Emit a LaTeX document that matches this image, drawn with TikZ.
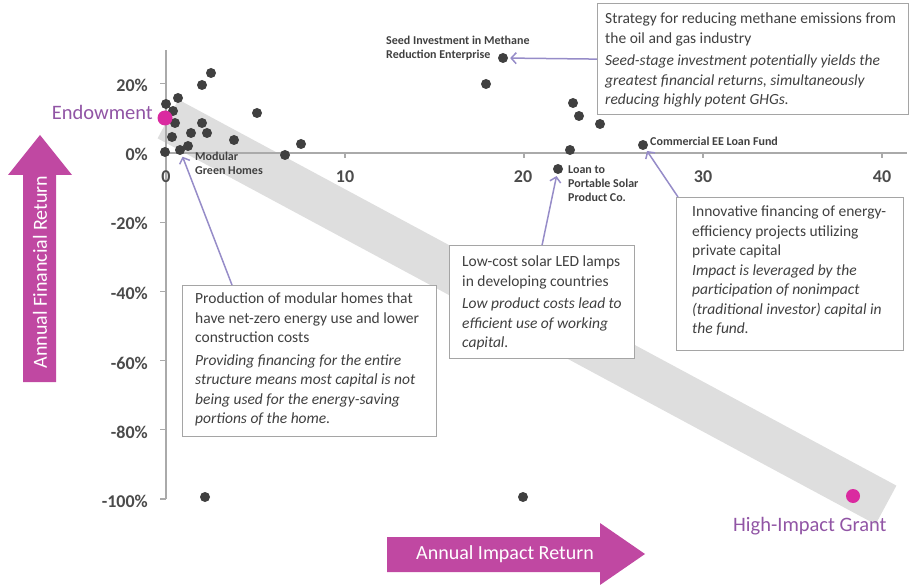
\documentclass[tikz,border=0pt]{standalone}
\usepackage{fontspec}
\setmainfont{Carlito}
\usetikzlibrary{arrows.meta,calc}
\definecolor{dotc}{RGB}{64,64,64}
\definecolor{magc}{RGB}{218,42,160}
\definecolor{labc}{RGB}{145,85,165}
\definecolor{arrc}{RGB}{192,72,162}
\definecolor{txtc}{RGB}{64,64,64}
\definecolor{tickc}{RGB}{75,75,75}
\definecolor{boxc}{RGB}{165,165,165}
\definecolor{connc}{RGB}{150,140,200}
\definecolor{bandc}{RGB}{222,222,222}
\definecolor{axc}{RGB}{170,170,170}
\begin{document}
\begin{tikzpicture}[x=1pt,y=-1pt,
  dot/.style={circle, fill=dotc, inner sep=0pt, minimum size=10pt},
  mdot/.style={circle, fill=magc, inner sep=0pt, minimum size=15pt},
  box/.style={draw=boxc, line width=1.2pt, fill=white, inner sep=0pt, anchor=north west},
  btxt/.style={text=txtc, font=\fontsize{15.5}{19.5}\selectfont, align=left, inner sep=0pt, anchor=north west},
  conn/.style={draw=connc, line width=1.5pt, -{Straight Barb[length=5pt,width=11pt]}, shorten >=2pt},
  ticklab/.style={text=tickc, font=\fontsize{18}{20}\selectfont\bfseries, inner sep=0pt},
  small/.style={text=txtc, font=\fontsize{12}{14}\selectfont\bfseries, align=left, inner sep=0pt, anchor=north west},
  plabel/.style={text=labc, font=\fontsize{20.5}{24}\selectfont, inner sep=0pt},
  arrowtxt/.style={text=white, font=\fontsize{20}{24}\selectfont, inner sep=0pt}
]
\useasboundingbox (0,0) rectangle (910,585);
% band
\coordinate (bs) at (168,119);
\coordinate (be) at (886,505);
\draw[bandc, line width=44pt] (bs) -- (be);
% axes
\coordinate (yt) at (166,50);
\coordinate (yb) at (166,499);
\coordinate (xl) at (166,153);
\coordinate (xr) at (907,153);
\draw[axc, line width=1.3pt] (yt) -- (yb);
\draw[axc, line width=1.3pt] (xl) -- (xr);
\foreach \v in {20,-20,-40,-60,-80,-100} {
  \draw[axc, line width=1.3pt] (160,{153-\v*3.46}) -- (166,{153-\v*3.46});
}
\foreach \u in {10,20,30,40} {
  \draw[axc, line width=1.3pt] ({166+\u*17.9},153) -- ({166+\u*17.9},158);
}
% tick labels
\node[ticklab, anchor=base east] (t20) at (148,92) {20\%};
\node[ticklab, anchor=base east] (t0) at (148,161) {0\%};
\node[ticklab, anchor=base east] (tm20) at (148,230) {-20\%};
\node[ticklab, anchor=base east] (tm40) at (148,299) {-40\%};
\node[ticklab, anchor=base east] (tm60) at (148,369) {-60\%};
\node[ticklab, anchor=base east] (tm80) at (148,438) {-80\%};
\node[ticklab, anchor=base east] (tm100) at (148,507) {-100\%};
\node[ticklab, anchor=base] (x0) at (166,183) {0};
\node[ticklab, anchor=base] (x10) at (345,183) {10};
\node[ticklab, anchor=base] (x20) at (523,183) {20};
\node[ticklab, anchor=base] (x30) at (703,183) {30};
\node[ticklab, anchor=base] (x40) at (882,183) {40};
% dots
\node[dot] (d1) at (211,73) {};
\node[dot] (d2) at (202,85) {};
\node[dot] (d3) at (178,98) {};
\node[dot] (d4) at (166,104) {};
\node[dot] (d5) at (173,111) {};
\node[dot] (d6) at (175,123) {};
\node[dot] (d7) at (172,137) {};
\node[dot] (d8) at (165,152) {};
\node[dot] (modular) at (180,150) {};
\node[dot] (d10) at (188,146) {};
\node[dot] (d11) at (191,133) {};
\node[dot] (d12) at (202,123) {};
\node[dot] (d13) at (207,133) {};
\node[dot] (d14) at (234,140) {};
\node[dot] (d15) at (257,113) {};
\node[dot] (d16) at (285,155) {};
\node[dot] (d17) at (301,144) {};
\node[dot] (d18) at (486,84) {};
\node[dot] (seed) at (503,58) {};
\node[dot] (d20) at (573,103) {};
\node[dot] (d21) at (579,116) {};
\node[dot] (d22) at (600,124) {};
\node[dot] (d23) at (570,150) {};
\node[dot] (loan) at (558,169) {};
\node[dot] (comm) at (643,145) {};
\node[dot] (d26) at (205,497) {};
\node[dot] (d27) at (523,497) {};
\node[mdot] (endow) at (165,118) {};
\node[mdot, minimum size=14pt] (grant) at (853,496) {};
% point labels
\node[plabel, anchor=base east] (endowlab) at (153,120) {Endowment};
\node[plabel, anchor=base west] (grantlab) at (733,531) {High-Impact Grant};
\node[small] (seedlab) at (386,36) {Seed Investment in Methane\\Reduction Enterprise};
\node[small, anchor=west] (commlab) at (650,141) {Commercial EE Loan Fund};
\node[small] (modlab) at (195,152) {Modular\\Green Homes};
\node[small] (loanlab) at (568,166) {Loan to\\Portable Solar\\Product Co.};
% big arrows
\fill[arrc] (23,382) -- (23,175) -- (8,175) -- (40,135) -- (72,175) -- (56,175) -- (56,382) -- cycle;
\node[arrowtxt, rotate=90] (ylab) at (40,272) {Annual Financial Return};
\fill[arrc] (387,537) -- (600,537) -- (600,523) -- (645,554) -- (600,585) -- (600,572) -- (387,572) -- cycle;
\node[arrowtxt] (xlab) at (505,554) {Annual Impact Return};
% boxes
\node[box, minimum width=311pt, minimum height=111pt] (b1) at (597,3) {};
\node[btxt] (b1t) at (605,13) {Strategy for reducing methane emissions from\\the oil and gas industry\\[3pt]
\textit{Seed-stage investment potentially yields the}\\\textit{greatest financial returns, simultaneously}\\\textit{reducing highly potent GHGs.}};
\node[box, minimum width=254pt, minimum height=151pt] (b2) at (182,285) {};
\node[btxt] (b2t) at (195,293) {Production of modular homes that\\have net-zero energy use and lower\\construction costs\\[3pt]
\textit{Providing financing for the entire}\\\textit{structure means most capital is not}\\\textit{being used for the energy-saving}\\\textit{portions of the home.}};
\node[box, minimum width=185pt, minimum height=113pt] (b3) at (449,245) {};
\node[btxt] (b3t) at (462,256) {Low-cost solar LED lamps\\in developing countries\\[3pt]
\textit{Low product costs lead to}\\\textit{efficient use of working}\\\textit{capital.}};
\node[box, minimum width=227pt, minimum height=153pt] (b4) at (676,197) {};
\node[btxt] (b4t) at (692,206) {Innovative financing of energy-\\efficiency projects utilizing\\private capital\\
\textit{Impact is leveraged by the}\\\textit{participation of nonimpact}\\\textit{(traditional investor) capital in}\\\textit{the fund.}};
% connectors
\draw[conn] (b1.west) -- (seed);
\draw[conn] ([xshift=50pt]b2.north west) -- (modular);
\draw[conn] (b3.north) -- (loan);
\draw[conn] ([xshift=2pt]b4.north west) -- (comm);
\end{tikzpicture}
\end{document}
